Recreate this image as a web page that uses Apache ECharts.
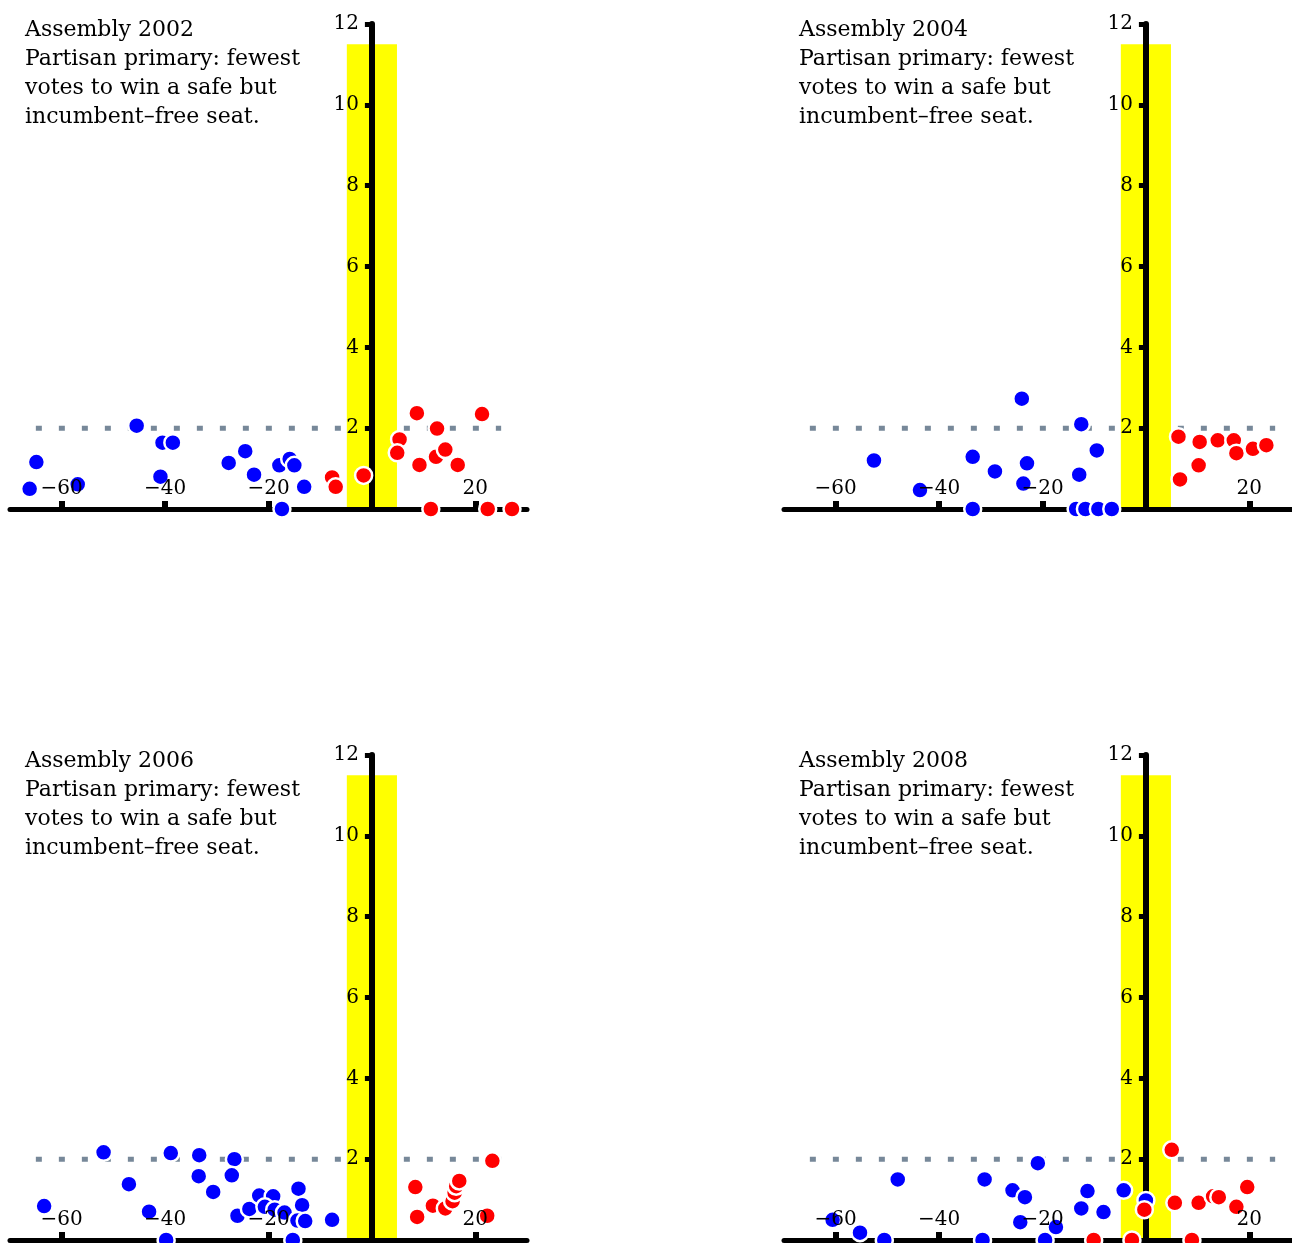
<!DOCTYPE html>
<html>
<head>
<meta charset="utf-8">
<script src="https://cdn.jsdelivr.net/npm/echarts@6/dist/echarts.min.js"></script>
<style>html,body{margin:0;padding:0;background:#fff}#c{width:1292px;height:1243px}</style>
</head>
<body>
<div id="c"></div>
<script>
// ---------- data ----------
const years = ['2002', '2004', '2006', '2008'];
const subtitle = 'Partisan primary: fewest\nvotes to win a safe but\nincumbent\u2013free seat.';
const xTicks = [-60, -40, -20, 20];
const xRange = [-70, 30];
const yRange = [0, 12];
const refLevel = [[-65, 2], [25, 2]];
const band = [[-4.85, 4.85, 11.5]];

const blue2002 = [[-64.9,1.16],[-66.2,0.5],[-56.9,0.61],[-45.5,2.06],[-40.5,1.64],[-38.5,1.64],[-40.9,0.8],[-27.7,1.14],[-24.5,1.43],[-22.8,0.85],[-17.9,1.08],[-15.9,1.24],[-15.0,1.08],[-13.1,0.55],[-17.4,0]];
const red2002 = [[-7.7,0.78],[-7.0,0.55],[-1.6,0.83],[5.35,1.72],[4.9,1.39],[8.7,2.37],[9.2,1.09],[12.6,1.99],[12.4,1.29],[14.2,1.47],[16.6,1.09],[21.3,2.35],[11.4,0],[22.4,0],[27.1,0]];

const blue2004 = [[-52.6,1.2],[-43.7,0.47],[-33.5,1.29],[-29.2,0.93],[-33.5,0],[-24.0,2.73],[-23.0,1.13],[-23.7,0.63],[-12.5,2.1],[-9.5,1.45],[-12.9,0.85],[-13.5,0],[-11.7,0],[-9.2,0],[-6.6,0]];
const red2004 = [[6.3,1.79],[6.6,0.73],[10.4,1.66],[10.2,1.08],[13.9,1.7],[17.0,1.7],[17.5,1.38],[20.7,1.49],[23.3,1.58]];

const blue2006 = [[-63.4,0.84],[-51.9,2.17],[-47.0,1.38],[-43.1,0.7],[-39.8,0],[-38.9,2.15],[-33.4,2.1],[-33.5,1.58],[-30.7,1.19],[-26.6,2.0],[-27.1,1.6],[-26.0,0.6],[-23.7,0.77],[-21.8,1.1],[-19.1,1.08],[-20.7,0.82],[-18.8,0.75],[-16.9,0.68],[-14.2,1.27],[-13.5,0.86],[-14.4,0.48],[-12.9,0.47],[-15.3,0],[-7.7,0.5]];
const red2006 = [[23.3,1.96],[8.4,1.31],[8.75,0.57],[11.8,0.85],[14.2,0.78],[15.6,0.96],[16.0,1.17],[16.3,1.33],[16.9,1.46],[22.3,0.6]];

const blue2008 = [[-60.6,0.5],[-55.3,0.18],[-50.6,0],[-48.0,1.5],[-31.2,1.5],[-31.6,0],[-25.8,1.23],[-23.4,1.06],[-24.3,0.44],[-20.9,1.9],[-19.5,0],[-17.4,0.32],[-11.3,1.21],[-12.5,0.78],[-8.2,0.69],[-4.3,1.23],[0,0.98]];
const red2008 = [[5.0,2.23],[5.6,0.92],[-0.3,0.75],[-2.7,0],[-10.1,0],[8.9,0],[10.2,0.92],[13.0,1.08],[14.1,1.06],[17.5,0.82],[19.6,1.31]];

const blues = [blue2002, blue2004, blue2006, blue2008];
const reds = [red2002, red2004, red2006, red2008];

// ---------- layout / style ----------
const FONT = 'DejaVu Serif';
const gridLefts = [10, 784];
const gridTops = [24, 755];
const GW = 517, GH = 485;
// y axis sits at x = 0: shift it right from the grid's left edge
const yAxisShift = GW * (0 - xRange[0]) / (xRange[1] - xRange[0]);

const chart = echarts.init(document.getElementById('c'), null, {renderer: 'canvas'});

const grids = [], xAxes = [], yAxes = [], series = [], titles = [];
for (let i = 0; i < 4; i++) {
  const L = gridLefts[i % 2], T = gridTops[Math.floor(i / 2)];
  grids.push({left: L, top: T, width: GW, height: GH, containLabel: false, outerBoundsMode: 'none'});
  titles.push({
    left: L + 15, top: T - 8, padding: 0,
    text: 'Assembly ' + years[i] + '\n' + subtitle,
    textStyle: {fontFamily: FONT, fontSize: 22, fontWeight: 'normal', lineHeight: 29, color: '#000'}
  });
  // axis line + ticks
  xAxes.push({
    gridIndex: i, type: 'value', min: xRange[0], max: xRange[1], position: 'bottom', z: 3,
    axisLine: {show: true, onZero: false, lineStyle: {color: '#000', width: 5}},
    axisTick: {show: true, inside: true, length: 8, customValues: xTicks, lineStyle: {color: '#000', width: 6}},
    axisLabel: {show: false}, splitLine: {show: false}
  });
  // labels above points
  xAxes.push({
    gridIndex: i, type: 'value', min: xRange[0], max: xRange[1], position: 'bottom', z: 5,
    axisLine: {show: false, onZero: false}, axisTick: {show: false}, splitLine: {show: false},
    axisLabel: {show: true, inside: true, margin: 10, customValues: xTicks,
      formatter: v => String(v).replace('-', '\u2212'),
      fontFamily: FONT, fontSize: 20, color: '#000'}
  });
  yAxes.push({
    gridIndex: i, type: 'value', min: yRange[0], max: yRange[1], interval: 2, z: 3,
    position: 'left', offset: -yAxisShift,
    axisLine: {show: true, onZero: false, lineStyle: {color: '#000', width: 6}},
    axisTick: {show: true, length: 7, lineStyle: {color: '#000', width: 5}},
    axisLabel: {show: true, margin: 13, showMinLabel: false,
      formatter: v => (v === 0 ? '' : String(v)),
      fontFamily: FONT, fontSize: 20, color: '#000'},
    splitLine: {show: false}
  });
  series.push({
    type: 'line', xAxisIndex: 2 * i, yAxisIndex: i, z: 1, silent: true,
    data: refLevel, showSymbol: false, symbol: 'none',
    lineStyle: {color: '#778899', width: 5, type: [6, 17], cap: 'butt'}
  });
  series.push({
    type: 'custom', xAxisIndex: 2 * i, yAxisIndex: i, z: 2, silent: true, clip: false,
    data: band,
    encode: {x: [0, 1], y: 2},
    renderItem: (params, api) => {
      const p0 = api.coord([api.value(0), api.value(2)]);
      const p1 = api.coord([api.value(1), 0]);
      return {type: 'rect', shape: {x: p0[0], y: p0[1], width: p1[0] - p0[0], height: p1[1] - p0[1]},
        style: {fill: '#FFFF00'}};
    }
  });
  series.push({
    type: 'scatter', xAxisIndex: 2 * i, yAxisIndex: i, z: 4, data: blues[i],
    symbol: 'circle', symbolSize: 17,
    itemStyle: {color: '#0000FF', borderColor: '#FFFFFF', borderWidth: 2.5, opacity: 1}
  });
  series.push({
    type: 'scatter', xAxisIndex: 2 * i, yAxisIndex: i, z: 4, data: reds[i],
    symbol: 'circle', symbolSize: 17,
    itemStyle: {color: '#FF0000', borderColor: '#FFFFFF', borderWidth: 2.5, opacity: 1}
  });
}

chart.setOption({
  animation: false,
  backgroundColor: '#ffffff',
  title: titles,
  grid: grids,
  xAxis: xAxes,
  yAxis: yAxes,
  series: series
});
</script>
</body>
</html>
